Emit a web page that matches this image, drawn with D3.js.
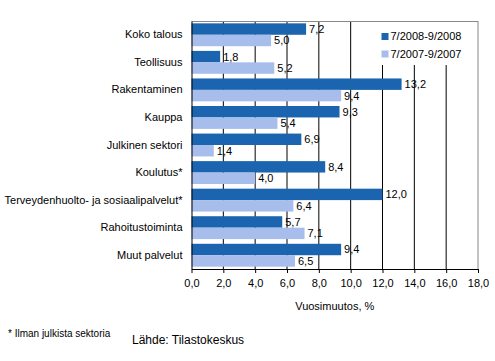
<!DOCTYPE html>
<html>
<head>
<meta charset="utf-8">
<script src="https://cdn.jsdelivr.net/npm/d3@7"></script>
<style>
  body { margin: 0; background: #fff; }
  text { font-family: "Liberation Sans", Arial, sans-serif; }
</style>
</head>
<body>
<svg id="chart" width="495" height="361"></svg>
<script>
const categories = ["Koko talous", "Teollisuus", "Rakentaminen", "Kauppa", "Julkinen sektori",
    "Koulutus*", "Terveydenhuolto- ja sosiaalipalvelut*", "Rahoitustoiminta", "Muut palvelut"];
const seriesNames = ["7/2008-9/2008", "7/2007-9/2007"];
const values2008 = [7.2, 1.8, 13.2, 9.3, 6.9, 8.4, 12.0, 5.7, 9.4];
const values2007 = [5.0, 5.2, 9.4, 5.4, 1.4, 4.0, 6.4, 7.1, 6.5];
const xTicks = [0, 2, 4, 6, 8, 10, 12, 14, 16, 18];
const colors = ["#1b65b0", "#a7bdeb"];

const svg = d3.select('#chart');
const margin = {top: 21, right: 17, bottom: 92, left: 191.5};
const width = 495 - margin.left - margin.right;
const height = 361 - margin.top - margin.bottom;
const fmt = v => d3.format('.1f')(v).replace('.', ',');

const g = svg.append('g')
    .attr('transform', `translate(${margin.left},${margin.top})`);

const x = d3.scaleLinear().domain([0, 18]).range([0, width]);
const y = d3.scaleBand().domain(categories).range([0, height]).paddingInner(0.17).paddingOuter(0.085);
const y1 = d3.scaleBand().domain([0, 1]).range([0, y.bandwidth()]);

// grid lines
g.selectAll('.grid')
    .data(xTicks.slice(1, -1))
    .enter().append('line')
    .attr('x1', d => x(d)).attr('x2', d => x(d))
    .attr('y1', 0).attr('y2', height)
    .attr('stroke', '#000').attr('stroke-width', 1);

// frame top and right
g.append('line').attr('x1', 0).attr('x2', width).attr('y1', 0.5).attr('y2', 0.5)
    .attr('stroke', '#888');
g.append('line').attr('x1', width).attr('x2', width).attr('y1', 0).attr('y2', height)
    .attr('stroke', '#888');

// legend background
g.append('rect').attr('x', x(11.3)).attr('y', 1).attr('width', width - x(11.3) - 1).attr('height', 43)
    .attr('fill', '#fff');

const rows = categories.map((c, i) => ({cat: c, vals: [values2008[i], values2007[i]]}));

const grp = g.selectAll('.cat')
    .data(rows)
    .enter().append('g')
    .attr('transform', d => `translate(0,${y(d.cat)})`);

grp.selectAll('rect')
    .data(d => d.vals)
    .enter().append('rect')
    .attr('x', 0)
    .attr('y', (d, i) => y1(i))
    .attr('width', d => x(d))
    .attr('height', y1.bandwidth())
    .attr('fill', (d, i) => colors[i]);

grp.selectAll('.val')
    .data(d => d.vals)
    .enter().append('text')
    .attr('x', d => x(d) + 3)
    .attr('y', (d, i) => y1(i) + y1.bandwidth() / 2)
    .attr('dy', '0.36em')
    .attr('font-size', 11)
    .text(d => fmt(d));

// y axis
const yAxis = g.append('g')
    .call(d3.axisLeft(y).tickSize(0).tickPadding(9));
yAxis.select('.domain').attr('stroke', '#000');
yAxis.selectAll('text').attr('font-size', 11).attr('fill', '#000');

// x axis
const xAxis = g.append('g')
    .attr('transform', `translate(0,${height})`)
    .call(d3.axisBottom(x).tickValues(xTicks).tickFormat(fmt).tickSize(4).tickSizeOuter(0).tickPadding(6));
xAxis.select('.domain').attr('stroke', '#000');
xAxis.selectAll('line').attr('stroke', '#000');
xAxis.selectAll('text').attr('font-size', 11).attr('fill', '#000');

g.append('text')
    .attr('x', width / 2)
    .attr('y', height + 41)
    .attr('text-anchor', 'middle')
    .attr('font-size', 11)
    .text('Vuosimuutos, %');

// legend
const legend = g.selectAll('.leg')
    .data(seriesNames)
    .enter().append('g')
    .attr('transform', (d, i) => `translate(${x(12.0) - 1},${15.5 + i * 17.5})`);
legend.append('rect').attr('width', 7).attr('height', 7).attr('y', -3.5)
    .attr('fill', (d, i) => colors[i]);
legend.append('text').attr('x', 9).attr('dy', '0.36em').attr('font-size', 11).text(d => d);

// footnotes
svg.append('text').attr('x', 8).attr('y', 337).attr('font-size', 10).text('* Ilman julkista sektoria');
svg.append('text').attr('x', 132).attr('y', 344).attr('font-size', 12).text('Lähde: Tilastokeskus');
</script>
</body>
</html>
